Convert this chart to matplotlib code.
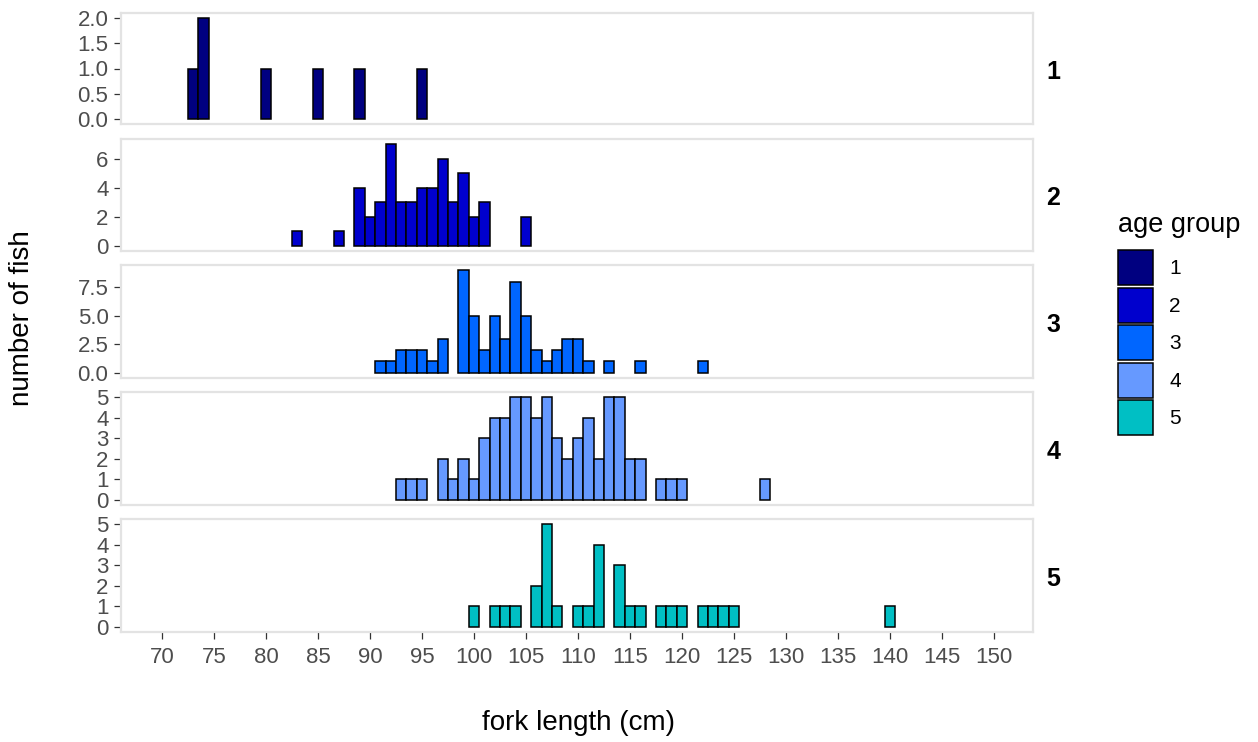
import matplotlib
matplotlib.use('Agg')
import matplotlib.pyplot as plt
from matplotlib.patches import Patch

plt.rcParams['font.family'] = ['Liberation Sans', 'DejaVu Sans']

# fork length bins (cm) and fish counts per age group
age1_len = [73, 74, 80, 85, 89, 95]
age1_n = [1, 2, 1, 1, 1, 1]

age2_len = [83, 87, 89, 90, 91, 92, 93, 94, 95, 96, 97, 98, 99, 100, 101, 105]
age2_n = [1, 1, 4, 2, 3, 7, 3, 3, 4, 4, 6, 3, 5, 2, 3, 2]

age3_len = [91, 92, 93, 94, 95, 96, 97, 99, 100, 101, 102, 103, 104, 105,
            106, 107, 108, 109, 110, 111, 113, 116, 122]
age3_n = [1, 1, 2, 2, 2, 1, 3, 9, 5, 2, 5, 3, 8, 5, 2, 1, 2, 3, 3, 1, 1, 1, 1]

age4_len = [93, 94, 95, 97, 98, 99, 100, 101, 102, 103, 104, 105, 106, 107,
            108, 109, 110, 111, 112, 113, 114, 115, 116, 118, 119, 120, 128]
age4_n = [1, 1, 1, 2, 1, 2, 1, 3, 4, 4, 5, 5, 4, 5, 3, 2, 3, 4, 2, 5, 5, 2,
          2, 1, 1, 1, 1]

age5_len = [100, 102, 103, 104, 106, 107, 108, 110, 111, 112, 114, 115, 116,
            118, 119, 120, 122, 123, 124, 125, 140]
age5_n = [1, 1, 1, 1, 2, 5, 1, 1, 1, 4, 3, 1, 1, 1, 1, 1, 1, 1, 1, 1, 1]

groups = ['1', '2', '3', '4', '5']
lengths = [age1_len, age2_len, age3_len, age4_len, age5_len]
counts = [age1_n, age2_n, age3_n, age4_n, age5_n]
colors = ['#000080', '#0000CD', '#0066FF', '#6699FF', '#00BFC4']

y_ticks = [
    [0, 0.5, 1.0, 1.5, 2.0],
    [0, 2, 4, 6],
    [0, 2.5, 5.0, 7.5],
    [0, 1, 2, 3, 4, 5],
    [0, 1, 2, 3, 4, 5],
]
y_labels = [
    ['0.0', '0.5', '1.0', '1.5', '2.0'],
    ['0', '2', '4', '6'],
    ['0.0', '2.5', '5.0', '7.5'],
    ['0', '1', '2', '3', '4', '5'],
    ['0', '1', '2', '3', '4', '5'],
]
x_ticks = list(range(70, 151, 5))

W, H = 1258, 742
fig = plt.figure(figsize=(W / 100, H / 100), dpi=100)

# panel extents in pixels (top, bottom)
left_px, right_px = 121, 1033
panel_px = [(13, 124), (139, 251), (265, 378), (392, 505), (519, 632)]

border = '#E3E3E3'
tick_col = '#4D4D4D'

axes = []
for i, (top, bot) in enumerate(panel_px):
    ax = fig.add_axes([left_px / W, 1 - bot / H,
                       (right_px - left_px) / W, (bot - top) / H])
    ax.bar(lengths[i], counts[i], width=1.0, color=colors[i],
           edgecolor='black', linewidth=1.1, zorder=2)
    ymax = max(counts[i])
    ax.set_ylim(-0.05 * ymax, ymax * 1.05)
    ax.set_xlim(66.05, 153.75)
    ax.set_yticks(y_ticks[i])
    ax.set_yticklabels(y_labels[i])
    ax.set_xticks(x_ticks)
    for s in ax.spines.values():
        s.set_color(border)
        s.set_linewidth(1.6)
        s.set_zorder(3)
    ax.tick_params(axis='y', length=5, width=0.9, color='#333333',
                   labelcolor=tick_col, labelsize=16, pad=4)
    if i < 4:
        ax.tick_params(axis='x', bottom=False, labelbottom=False)
    else:
        ax.tick_params(axis='x', length=5, width=0.9, color='#333333',
                       labelcolor=tick_col, labelsize=16, pad=6)
    ax.text(1.022, 0.47, groups[i], transform=ax.transAxes,
            ha='center', va='center', fontsize=18, fontweight='bold')
    axes.append(ax)

fig.text(22 / W, 1 - 318 / H, 'number of fish', rotation=90,
         ha='center', va='center', fontsize=20)
fig.text(578 / W, 1 - 723 / H, 'fork length (cm)',
         ha='center', va='center', fontsize=20)

# legend: title placed separately so the key column can sit lower
fig.text(1118 / W, 1 - 225 / H, 'age group', ha='left', va='center',
         fontsize=19.5)
handles = [Patch(facecolor=c, edgecolor='black', linewidth=1.1)
           for c in colors]
leg = fig.legend(handles, groups,
                 loc='upper left', bbox_to_anchor=(1108 / W, 1 - 240 / H),
                 frameon=False, fontsize=15,
                 handlelength=1.68, handleheight=2.2, handletextpad=0.75,
                 labelspacing=0.12, borderpad=0)

fig.savefig('out.png', dpi=100)
